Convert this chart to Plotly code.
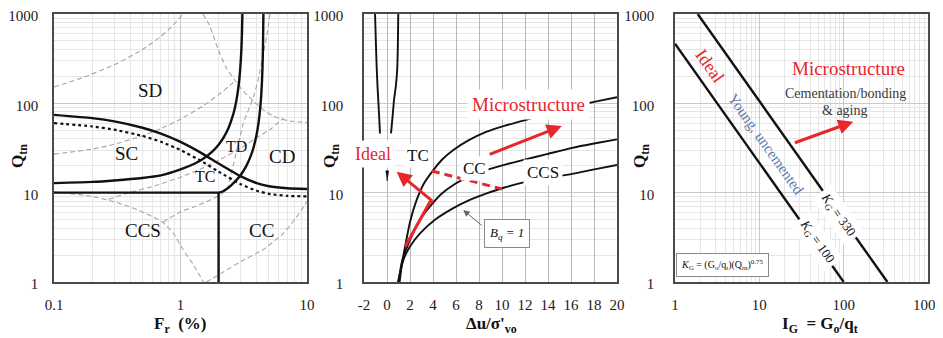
import math
import plotly.graph_objects as go

# ---------------- DATA ----------------
# Panel 1: Qtn vs Fr (%)
fr_cd = [0.1, 0.2, 0.3, 0.5, 0.7, 1, 1.5, 2, 3, 4, 5, 7, 10]
qtn_cd = [74.2, 68.2, 62.7, 53.3, 45.8, 37.0, 27.2, 21.2, 15.2, 12.8, 11.8, 11.2, 11.0]
fr_dot = [0.1, 0.2, 0.3, 0.5, 0.7, 1, 1.5, 2, 3, 4, 5, 7, 10]
qtn_dot = [60, 55.1, 50.7, 43.2, 37.1, 30.0, 22.1, 17.2, 12.4, 10.5, 9.7, 9.2, 9.1]
fr_ib32 = [0.1, 0.2, 0.3, 0.5, 0.7, 1, 1.3, 1.5, 1.8, 2, 2.2, 2.4, 2.6, 2.7, 2.8, 2.9, 2.95, 3.0, 3.03, 3.06, 3.09]
qtn_ib32 = [12.8, 13.2, 13.7, 14.6, 15.6, 18.2, 21.2, 23.8, 29.2, 34.4, 41.9, 53.4, 73.8, 91, 119, 172, 221, 310, 408, 596, 1100]
fr_ib22 = [2.0, 2.15, 2.3, 2.5, 2.8, 3.0, 3.3, 3.6, 3.8, 4.0, 4.15, 4.3, 4.4, 4.45, 4.49, 4.525]
qtn_ib22 = [10, 10.3, 10.9, 12.0, 14.1, 15.9, 19.7, 26, 32.9, 45, 62, 100, 169, 257, 443, 1100]
fr_hline = [0.1, 2.0]
qtn_hline = [10, 10]
fr_vline = [2.0, 2.0]
qtn_vline = [1, 10]

# grey dashed (older SBTn boundaries)
fr_g1 = [0.1, 0.17, 0.3, 0.5, 0.7, 0.85, 1.05]
qtn_g1 = [152, 195, 270, 400, 560, 720, 1000]
fr_g2 = [0.1, 0.2, 0.3, 0.5, 0.7, 1, 1.5, 2, 2.4, 2.7]
qtn_g2 = [27, 30.7, 34.8, 43.4, 52.2, 66.5, 93, 125, 154, 179]
fr_g3 = [1.5, 1.6, 1.7, 1.85, 2, 2.3, 2.7, 3.2, 3.8, 4.5, 5.4, 7, 10]
qtn_g3 = [1000, 870, 740, 530, 390, 250, 180, 133, 105, 85, 72, 64, 61]
fr_g4 = [0.73, 1.0, 1.3, 1.6, 1.93, 2.32, 2.5, 2.65, 2.78, 2.95, 3.14, 3.45, 3.78, 4.1, 4.52, 4.8, 5.1]
qtn_g4 = [4.7, 6.1, 7.0, 7.9, 9.0, 10.7, 16, 22, 30, 42, 60, 85, 119, 180, 363, 560, 1000]
fr_g5 = [0.1, 0.2, 0.3, 0.45, 0.6, 0.73, 0.88, 1.05, 1.25, 1.52]
qtn_g5 = [10.2, 9.1, 7.9, 6.5, 5.4, 4.6, 3.5, 2.3, 1.6, 1.0]
fr_g6 = [0.27, 0.4, 0.6, 1, 1.5, 2, 3, 4, 5.2, 6.5]
qtn_g6 = [8.4, 10.1, 11.7, 14.9, 18.9, 23, 31.6, 41.2, 52, 68]
fr_g7 = [1.6, 2.2, 3, 4.5, 6.5, 8, 9, 10]
qtn_g7 = [1.0, 1.3, 1.7, 2.3, 3.5, 5.0, 6.3, 8.0]

zone_names = ["SD", "SC", "TD", "CD", "TC", "CCS", "CC"]

# Panel 2: Qtn vs du/s'vo
du_tc = [1.1, 1.3, 1.57, 2.0, 2.58, 3.2, 4.03, 4.8, 5.77, 7.0, 8.67, 10.2, 11.85, 14, 16, 18, 20]
qtn_tc = [1.0, 1.6, 2.48, 4.7, 8.3, 12.6, 17.9, 23.5, 30, 38, 48.2, 56, 64, 78, 91, 104, 117]
du_cc = [1.0, 1.3, 2.0, 2.8, 3.74, 4.7, 5.77, 7.2, 8.67, 10.2, 11.7, 13.9, 16, 18, 20]
qtn_cc = [1.0, 1.7, 2.95, 4.8, 7.0, 9.6, 12.2, 15.2, 18, 20.5, 23, 27, 31.5, 35.5, 39.5]
du_bq1 = [0.95, 1.42, 2.0, 2.87, 4.2, 5.77, 7.2, 8.67, 10.3, 12.15, 14, 15.6, 17.8, 20]
qtn_bq1 = [1.0, 1.76, 2.5, 3.5, 5.0, 6.7, 8.3, 9.8, 11.5, 13.3, 14.8, 15.8, 18, 20.4]
du_left = [-1.04, -0.97, -0.9, -0.83, -0.76, -0.68, -0.61]
qtn_left = [1000, 500, 257, 160, 109, 70, 46]
du_right = [0.98, 0.95, 0.9, 0.78, 0.61, 0.48, 0.35]
qtn_right = [1000, 500, 257, 160, 109, 70, 46]
du_wedge = [-0.12, 0.12, 0.0]
qtn_wedge = [17.5, 17.5, 13.5]
du_ideal_path = [1.57, 3.74, 4.03]
qtn_ideal_path = [2.48, 7.9, 7.9]
du_red_dash = [3.9, 10.0]
qtn_red_dash = [17.5, 11.0]
du_ticks = [-2, 0, 2, 4, 6, 8, 10, 12, 14, 16, 18, 20]
du_ticktext = ["-2", "0", "2", "4", "6", "8", "10", "12", "14", "16", "18", "20"]

# Panel 3: Qtn vs IG
ig_kg100 = [1, 100]
qtn_kg100 = [464, 1]
ig_kg330 = [1.86, 330]
qtn_kg330 = [1000, 1]

log_q_ticks = [1, 10, 100, 1000]
log_q_text = ["1", "10", "100", "1000"]
fr_ticks = [0.1, 1, 10]
fr_text = ["0.1", "1", "10"]

# ---------------- STYLE / LAYOUT ----------------
SERIF = "Liberation Serif, Times New Roman, serif"
RED = "#e8262b"
BLACK = "#111111"
GREY = "#a6a6a6"
OFF = 8                      # page body margin of the html page
W, H = 943 - OFF, 338 - OFF
L10 = math.log10


def pxx(x):
    return (x - OFF) / W


def pxy(y):
    return 1 - (y - OFF) / H


fig = go.Figure()


def line(xs, ys, xa, ya, color=BLACK, width=2.2, dash="solid", shape="spline"):
    fig.add_trace(go.Scatter(
        x=xs, y=ys, xaxis=xa, yaxis=ya, mode="lines",
        line=dict(color=color, width=width, dash=dash, shape=shape, smoothing=0.5),
        hoverinfo="skip", showlegend=False))


# Panel 1
for xs, ys in [(fr_g1, qtn_g1), (fr_g2, qtn_g2), (fr_g3, qtn_g3), (fr_g4, qtn_g4),
               (fr_g5, qtn_g5), (fr_g6, qtn_g6), (fr_g7, qtn_g7)]:
    line(xs, ys, "x", "y", color=GREY, width=1.1, dash="5px,3px")
line(fr_dot, qtn_dot, "x", "y", width=2.2, dash="dot")
line(fr_cd, qtn_cd, "x", "y", width=2.4)
line(fr_ib32, qtn_ib32, "x", "y", width=2.4)
line(fr_ib22, qtn_ib22, "x", "y", width=2.4)
line(fr_hline, qtn_hline, "x", "y", width=2.4, shape="linear")
line(fr_vline, qtn_vline, "x", "y", width=2.4, shape="linear")

# Panel 2
line(du_tc, qtn_tc, "x2", "y2", width=1.9)
line(du_cc, qtn_cc, "x2", "y2", width=1.9)
line(du_bq1, qtn_bq1, "x2", "y2", width=1.9)
line(du_left, qtn_left, "x2", "y2", width=1.9)
line(du_right, qtn_right, "x2", "y2", width=1.9)
fig.add_trace(go.Scatter(x=du_wedge, y=qtn_wedge, xaxis="x2", yaxis="y2", mode="lines",
                         fill="toself", fillcolor=BLACK, line=dict(color=BLACK, width=1),
                         hoverinfo="skip", showlegend=False))
line(du_ideal_path, qtn_ideal_path, "x2", "y2", color=RED, width=3, shape="linear")
line(du_red_dash, qtn_red_dash, "x2", "y2", color=RED, width=3, dash="8px,5px", shape="linear")

# Panel 3
line(ig_kg100, qtn_kg100, "x3", "y3", width=2.4, shape="linear")
line(ig_kg330, qtn_kg330, "x3", "y3", width=2.4, shape="linear")

# axes
tickfont = dict(family=SERIF, size=15, color="#1a1a1a")
common = dict(showline=True, mirror=True, linecolor="#4a4a4a", linewidth=1.5,
              ticks="", zeroline=False, tickfont=tickfont, showgrid=True,
              automargin=False, ticklabeloverflow="allow")
minor_log = dict(dtick="D1", showgrid=True, gridcolor="#e6e6e6", gridwidth=1, ticks="")
ydom = [pxy(282), pxy(14)]

fig.update_layout(
    width=W, height=H, margin=dict(l=0, r=0, t=0, b=0, autoexpand=False),
    paper_bgcolor="white", plot_bgcolor="white", showlegend=False,
    xaxis=dict(domain=[pxx(54), pxx(307)], type="log", range=[-1, 1], anchor="y",
               tickvals=fr_ticks, ticktext=fr_text, gridcolor="#c9c9c9",
               minor=minor_log, ticklabelstandoff=8, **common),
    yaxis=dict(domain=ydom, type="log", range=[0, 3], anchor="x",
               tickvals=log_q_ticks, ticktext=log_q_text, gridcolor="#c9c9c9",
               minor=minor_log, ticklabelstandoff=11, ticklabelshift=2, **common),
    xaxis2=dict(domain=[pxx(364), pxx(617)], range=[-2, 20], anchor="y2",
                tickvals=du_ticks, ticktext=du_ticktext, gridcolor="#b8b8b8",
                ticklabelstandoff=8, **common),
    yaxis2=dict(domain=ydom, type="log", range=[0, 3], anchor="x2",
                tickvals=log_q_ticks, ticktext=log_q_text, gridcolor="#c9c9c9",
                minor=minor_log, ticklabelstandoff=16, ticklabelshift=2, **common),
    xaxis3=dict(domain=[pxx(675), pxx(928)], type="log", range=[0, 3], anchor="y3",
                tickvals=log_q_ticks, ticktext=log_q_text, gridcolor="#c9c9c9",
                minor=minor_log, ticklabelstandoff=8, **common),
    yaxis3=dict(domain=ydom, type="log", range=[0, 3], anchor="x3",
                tickvals=log_q_ticks, ticktext=log_q_text, gridcolor="#c9c9c9",
                minor=minor_log, ticklabelstandoff=16, ticklabelshift=2, **common),
)

ann = []


def label(text, x, y, xref, yref, size=17, color=BLACK, bg=None, angle=0, pad=1,
          border=None):
    d = dict(text=text, x=x, y=y, xref=xref, yref=yref, showarrow=False,
             font=dict(family=SERIF, size=size, color=color), textangle=angle,
             xanchor="center", yanchor="middle", borderpad=pad)
    if bg:
        d["bgcolor"] = bg
    if border:
        d["bordercolor"] = border
        d["borderwidth"] = 1
    ann.append(d)


def arrow(x, y, ax, ay, xref, yref, color=RED, width=3, head=2, size=1.0):
    ann.append(dict(text="", x=x, y=y, ax=ax, ay=ay, xref=xref, yref=yref,
                    axref=xref, ayref=yref, showarrow=True, arrowhead=head,
                    arrowsize=size, arrowwidth=width, arrowcolor=color, standoff=0))


# axis titles
for cx in [19, 331, 641]:
    label("<b>Q<sub>tn</sub></b>", pxx(cx), pxy(156), "paper", "paper", size=17, angle=-90)
label("<b>F<sub>r</sub>  (%)</b>", pxx(180), pxy(325), "paper", "paper", size=17)
label("<b>Δu/σ'<sub>vo</sub></b>", pxx(491), pxy(325), "paper", "paper", size=17)
label("<b>I<sub>G</sub>  = G<sub>o</sub>/q<sub>t</sub></b>", pxx(820), pxy(325), "paper", "paper", size=17)

# panel 1 zone labels
zone_pos = [(0.574, 141, 19), (0.376, 27.5, 19), (2.78, 32.7, 16), (6.3, 25.2, 19),
            (1.56, 15.1, 16), (0.508, 3.8, 19), (4.38, 3.8, 19)]
for name, (fx, fy, fs) in zip(zone_names, zone_pos):
    label(name, L10(fx), L10(fy), "x", "y", size=fs)

# panel 2 labels
label("Microstructure", 12.3, L10(98), "x2", "y2", size=19, color=RED, bg="white", pad=4)
label("Ideal", -1.19, L10(27.1), "x2", "y2", size=18, color=RED, bg="white", pad=3)
label("TC", 2.72, L10(26.4), "x2", "y2", size=17, bg="white", pad=2)
label("CC", 7.65, L10(18.7), "x2", "y2", size=17, bg="white", pad=2)
label("CCS", 13.6, L10(16.7), "x2", "y2", size=17, bg="white", pad=3)
label("<i>B<sub>q</sub> = 1</i>", 10.4, L10(3.45), "x2", "y2", size=13, bg="white",
      pad=5, border="#8a8a8a")
arrow(0.84, L10(17.2), 4.03, L10(7.9), "x2", "y2")
arrow(15.2, L10(55.8), 8.8, L10(26.4), "x2", "y2")
arrow(6.63, L10(6.4), 8.37, L10(4.16), "x2", "y2", color="#666666", width=1, head=2, size=1.3)

# panel 3 labels
ang = 54.7
label("Ideal", L10(2.6), L10(263), "x3", "y3", size=18, color=RED, angle=ang)
label("Young, uncemented", L10(11.9), L10(34.9), "x3", "y3", size=15, color="#5b7bab", angle=ang)
label("Microstructure", L10(113), L10(247), "x3", "y3", size=19, color=RED)
label("Cementation/bonding", L10(104), L10(129), "x3", "y3", size=14, color="#3a3a3a")
label("&amp; aging", L10(104), L10(84), "x3", "y3", size=14, color="#3a3a3a")
label("<i>K<sub>G</sub></i> = 330", L10(86.5), L10(5.6), "x3", "y3", size=13, bg="white",
      angle=ang, pad=3)
label("<i>K<sub>G</sub></i> = 100", L10(47.9), L10(2.83), "x3", "y3", size=13, bg="white",
      angle=ang, pad=3)
label("<i>K<sub>G</sub></i> = (G<sub>o</sub>/q<sub>t</sub>)(Q<sub>tn</sub>)<sup>0.75</sup>",
      L10(3.66), L10(1.55), "x3", "y3", size=10, bg="white", pad=4, border="#8a8a8a")
arrow(L10(130), L10(62.3), L10(25.3), L10(35.7), "x3", "y3")

fig.update_layout(annotations=ann)
fig.write_html("out.html")
